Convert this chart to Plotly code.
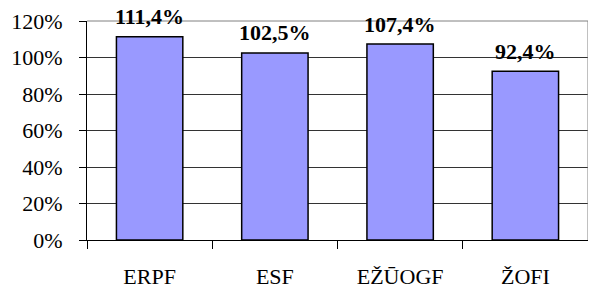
import plotly.graph_objects as go

categories = ["ERPF", "ESF", "EŽŪOGF", "ŽOFI"]
values = [111.4, 102.5, 107.4, 92.4]
value_labels = ["111,4%", "102,5%", "107,4%", "92,4%"]
y_ticks = [0, 20, 40, 60, 80, 100, 120]
y_tick_labels = ["0%", "20%", "40%", "60%", "80%", "100%", "120%"]

FONT = "Liberation Serif"

fig = go.Figure()
fig.add_trace(go.Bar(
    x=categories, y=values,
    marker=dict(color="#9999FF", line=dict(color="black", width=1.5)),
    width=0.53, hoverinfo="skip",
))

for c, v, t in zip(categories, values, value_labels):
    fig.add_annotation(x=c, y=v, text=f"<b>{t}</b>", showarrow=False,
                       yshift=20, yanchor="middle", xanchor="center",
                       font=dict(family=FONT, size=22, color="black"))

fig.update_layout(
    template="none",
    width=596, height=290,
    margin=dict(l=79, r=16, t=13, b=58, autoexpand=False),
    paper_bgcolor="white", plot_bgcolor="white",
    showlegend=False,
    font=dict(family=FONT, size=22, color="black"),
    xaxis=dict(
        type="category", categoryarray=categories, range=[-0.5, 3.5],
        tickson="boundaries", ticks="outside", ticklen=8, tickcolor="black", tickwidth=1,
        showline=True, linecolor="black", linewidth=1, showgrid=False, automargin=False,
        tickfont=dict(family=FONT, size=22, color="black"), ticklabelstandoff=17,
    ),
    yaxis=dict(
        range=[0, 120], tickvals=y_ticks, ticktext=y_tick_labels,
        ticks="outside", ticklen=7, tickcolor="black", tickwidth=1,
        showline=True, linecolor="black", linewidth=1, automargin=False,
        showgrid=True, gridcolor="#333333", gridwidth=1, zeroline=False,
        tickfont=dict(family=FONT, size=22, color="black"), ticklabelstandoff=12,
    ),
    xaxis2=dict(
        overlaying="x", anchor="y", side="bottom", range=[-0.5, 3.5],
        tickvals=[-0.5, 0.5, 1.5, 2.5, 3.5], ticks="inside", ticklen=7, automargin=False,
        tickcolor="black", showticklabels=False, showline=False, showgrid=False, zeroline=False,
    ),
    yaxis2=dict(
        overlaying="y", anchor="x", side="left", range=[0, 120], automargin=False,
        tickvals=y_ticks, ticks="inside", ticklen=8, tickcolor="black",
        showticklabels=False, showline=False, showgrid=False, zeroline=False,
    ),
    shapes=[
        dict(type="line", xref="paper", yref="paper", x0=0, x1=1, y0=1, y1=1,
             line=dict(color="#808080", width=1)),
        dict(type="line", xref="paper", yref="paper", x0=1, x1=1, y0=0, y1=1,
             line=dict(color="#808080", width=1)),
    ],
)

fig.write_html("out.html")
